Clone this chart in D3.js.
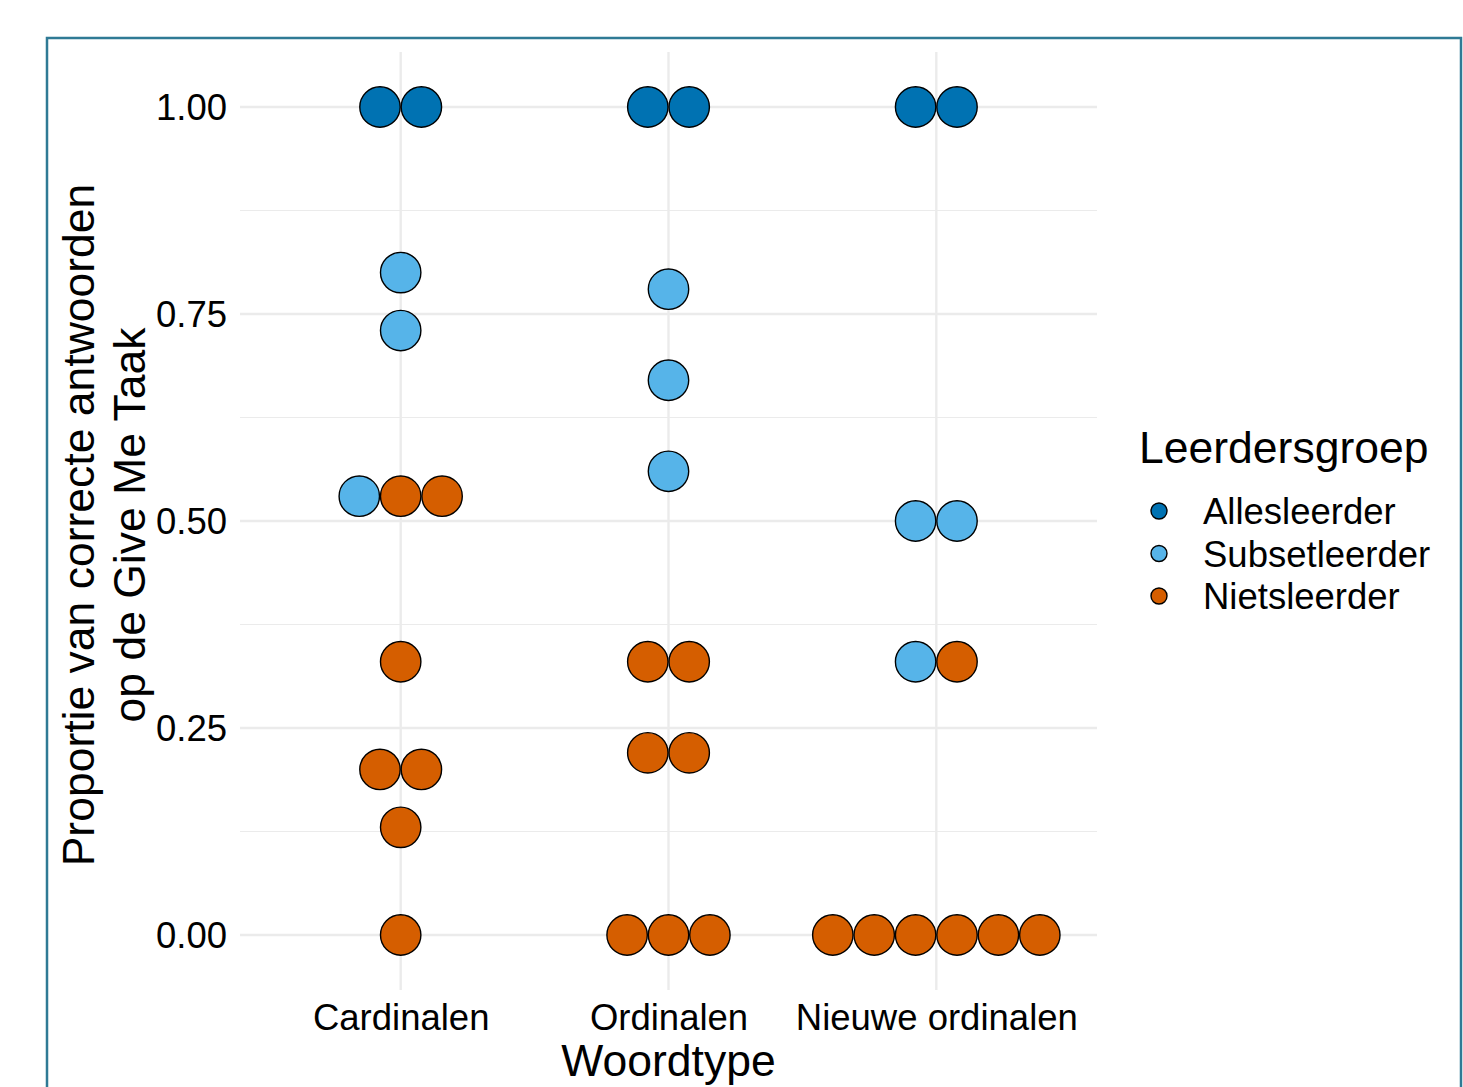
<!DOCTYPE html>
<html>
<head>
<meta charset="utf-8">
<script src="https://cdn.jsdelivr.net/npm/d3@7"></script>
<style>
  body { margin: 0; background: #fff; }
  svg text { font-family: "Liberation Sans", Arial, sans-serif; fill: #000; }
</style>
</head>
<body>
<div class="chart"></div>
<script>
const categories = ["Cardinalen", "Ordinalen", "Nieuwe ordinalen"];
const groups = ["Allesleerder", "Subsetleerder", "Nietsleerder"];
const groupColors = ["#0072B2", "#56B4E9", "#D55E00"];
const yTicks = [0, 0.25, 0.5, 0.75, 1];
const yMinorTicks = [0.125, 0.375, 0.625, 0.875];

// proportion correct per child, with learner group
const cardinalenValues = [1, 1, 0.80, 0.73, 0.53, 0.53, 0.53, 0.33, 0.20, 0.20, 0.13, 0];
const cardinalenGroups = ["Allesleerder", "Allesleerder", "Subsetleerder", "Subsetleerder", "Subsetleerder",
  "Nietsleerder", "Nietsleerder", "Nietsleerder", "Nietsleerder", "Nietsleerder", "Nietsleerder", "Nietsleerder"];
const ordinalenValues = [1, 1, 0.78, 0.67, 0.56, 0.33, 0.33, 0.22, 0.22, 0, 0, 0];
const ordinalenGroups = ["Allesleerder", "Allesleerder", "Subsetleerder", "Subsetleerder", "Subsetleerder",
  "Nietsleerder", "Nietsleerder", "Nietsleerder", "Nietsleerder", "Nietsleerder", "Nietsleerder", "Nietsleerder"];
const nieuweValues = [1, 1, 0.5, 0.5, 0.33, 0.33, 0, 0, 0, 0, 0, 0];
const nieuweGroups = ["Allesleerder", "Allesleerder", "Subsetleerder", "Subsetleerder", "Subsetleerder",
  "Nietsleerder", "Nietsleerder", "Nietsleerder", "Nietsleerder", "Nietsleerder", "Nietsleerder", "Nietsleerder"];

const binwidth = 0.05;

const data = [];
[[cardinalenValues, cardinalenGroups], [ordinalenValues, ordinalenGroups], [nieuweValues, nieuweGroups]]
  .forEach(([vals, grps], ci) => {
    vals.forEach((v, i) => data.push({cat: categories[ci], value: v, group: grps[i]}));
  });

const width = 1463, height = 1087;
const panel = {left: 240, right: 1097, top: 52, bottom: 990};

const svg = d3.select(".chart").append("svg")
  .attr("width", width)
  .attr("height", height);

// outer frame
svg.append("rect")
  .attr("x", 47).attr("y", 38)
  .attr("width", 1414).attr("height", 1100)
  .attr("fill", "none")
  .attr("stroke", "#2f7a95")
  .attr("stroke-width", 2.5);

const yScale = d3.scaleLinear()
  .domain([0, 1])
  .range([935, 107]);

const xScale = d3.scalePoint()
  .domain(categories)
  .range([panel.left, panel.right])
  .padding(0.6);

const g = svg.append("g");

// grid
g.selectAll(".minor").data(yMinorTicks).enter().append("line")
  .attr("x1", panel.left).attr("x2", panel.right)
  .attr("y1", d => yScale(d)).attr("y2", d => yScale(d))
  .attr("stroke", "#ebebeb").attr("stroke-width", 1.2);
g.selectAll(".major").data(yTicks).enter().append("line")
  .attr("x1", panel.left).attr("x2", panel.right)
  .attr("y1", d => yScale(d)).attr("y2", d => yScale(d))
  .attr("stroke", "#ebebeb").attr("stroke-width", 2.4);
g.selectAll(".vgrid").data(categories).enter().append("line")
  .attr("x1", d => xScale(d)).attr("x2", d => xScale(d))
  .attr("y1", panel.top).attr("y2", panel.bottom)
  .attr("stroke", "#ebebeb").attr("stroke-width", 2.4);

// axes
const yAxis = g.append("g")
  .attr("transform", "translate(" + panel.left + ",0)")
  .call(d3.axisLeft(yScale).tickValues(yTicks).tickFormat(d3.format(".2f")).tickSize(0).tickPadding(13));
yAxis.select(".domain").remove();
yAxis.selectAll("text").style("font-size", "36.5px").attr("dy", "0.35em");

const xAxis = g.append("g")
  .attr("transform", "translate(0," + panel.bottom + ")")
  .call(d3.axisBottom(xScale).tickSize(0).tickPadding(14));
xAxis.select(".domain").remove();
xAxis.selectAll("text").style("font-size", "36.5px").attr("dy", "0.71em");

// dots, stacked centred around category
const radius = (yScale(0) - yScale(binwidth)) / 2;
const stacks = d3.group(data, d => d.cat, d => d.value);
const dots = [];
stacks.forEach((byVal, cat) => {
  byVal.forEach(arr => {
    arr.sort((a, b) => groups.indexOf(a.group) - groups.indexOf(b.group));
    arr.forEach((d, i) => dots.push({...d, off: (i - (arr.length - 1) / 2) * radius * 2}));
  });
});

const color = d3.scaleOrdinal().domain(groups).range(groupColors);

g.selectAll(".dot").data(dots).enter().append("circle")
  .attr("cx", d => xScale(d.cat) + d.off)
  .attr("cy", d => yScale(d.value))
  .attr("r", radius - 0.5)
  .attr("fill", d => color(d.group))
  .attr("stroke", "#000")
  .attr("stroke-width", 1.4);

// axis titles
svg.append("text")
  .attr("x", xScale("Ordinalen")).attr("y", 1076)
  .attr("text-anchor", "middle")
  .style("font-size", "44.5px")
  .text("Woordtype");

const yTitle = svg.append("text")
  .attr("transform", "translate(0," + ((panel.top + panel.bottom) / 2 + 4) + ") rotate(-90)")
  .attr("text-anchor", "middle")
  .style("font-size", "44.5px");
yTitle.append("tspan").attr("x", 0).attr("y", 94).text("Proportie van correcte antwoorden");
yTitle.append("tspan").attr("x", 0).attr("y", 145).text("op de Give Me Taak");

// legend
const legend = svg.append("g").attr("transform", "translate(1139,0)");
legend.append("text")
  .attr("x", 0).attr("y", 463)
  .style("font-size", "44.5px")
  .text("Leerdersgroep");
const items = legend.selectAll(".item").data(groups).enter().append("g")
  .attr("transform", (d, i) => "translate(0," + (511 + i * 42.5) + ")");
items.append("circle")
  .attr("cx", 20).attr("cy", 0).attr("r", 8)
  .attr("fill", d => color(d))
  .attr("stroke", "#000").attr("stroke-width", 1.4);
items.append("text")
  .attr("x", 64).attr("y", 0).attr("dy", "0.36em")
  .style("font-size", "36.5px")
  .text(d => d);
</script>
</body>
</html>
